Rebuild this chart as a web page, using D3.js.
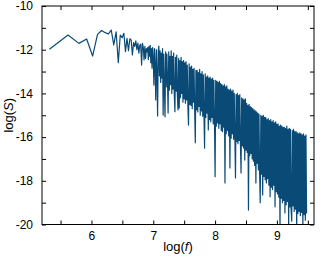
<!DOCTYPE html>
<html lang="en">
<head>
<meta charset="utf-8">
<style>
  body { margin: 0; background: #fff; }
  svg { display: block; font-family: "Liberation Sans", Arial, sans-serif; }
</style>
</head>
<body>
<div id="chart"></div>
<script src="https://cdn.jsdelivr.net/npm/d3@7"></script>
<script>
// low frequency part: one point per FFT bin
const sparseF = [5.320, 5.621, 5.797, 5.922, 6.019, 6.098, 6.165, 6.223, 6.274, 6.320,
  6.361, 6.399, 6.434, 6.466, 6.496, 6.524, 6.550, 6.575, 6.599, 6.621,
  6.643, 6.662, 6.682, 6.700, 6.718, 6.735, 6.751, 6.767, 6.782, 6.797,
  6.811, 6.825, 6.839, 6.851, 6.864, 6.876, 6.888, 6.900];
const sparseS = [-11.98, -11.33, -11.71, -11.51, -12.29, -11.30, -11.12, -11.22, -11.28, -11.10,
  -11.78, -11.18, -12.59, -11.33, -11.45, -11.25, -12.09, -11.48, -12.05, -11.50,
  -11.56, -12.24, -11.68, -11.85, -11.60, -12.00, -11.70, -12.16, -11.80, -11.75,
  -12.70, -11.71, -11.90, -12.47, -11.85, -12.40, -11.95, -12.10];

// dense part: log(f) from 6.91 in steps of 0.01, values estimated from the band
const denseStart = 6.91;
const denseStep = 0.01;
const denseS = [
  -11.90, -12.45, -11.85, -12.30, -11.80, -12.60, -11.95, -12.85, -11.90, -12.40,
  -13.62, -11.95, -12.70, -14.30, -12.00, -13.10, -15.03, -12.10, -11.83, -13.20,
  -12.05, -13.50, -12.15, -13.30, -11.95, -14.99, -12.20, -13.60, -15.07, -12.10,
  -13.70, -12.20, -13.40, -14.90, -12.10, -13.85, -12.30, -13.60, -12.05, -14.00,
  -12.30, -13.80, -12.15, -14.05, -14.84, -12.35, -13.90, -12.25, -14.10, -14.76,
  -12.40, -14.67, -12.50, -14.20, -12.35, -14.00, -12.55, -14.40, -12.50, -14.25,
  -12.60, -14.45, -12.55, -14.30, -12.70, -14.60, -15.45, -12.65, -14.50, -12.80,
  -14.55, -12.75, -14.70, -12.90, -14.40, -12.85, -14.80, -16.26, -12.95, -14.75,
  -12.95, -14.85, -13.05, -14.60, -12.90, -15.00, -13.10, -14.80, -13.00, -15.05,
  -13.15, -14.95, -16.51, -13.10, -15.10, -13.25, -14.90, -13.20, -15.67, -13.30,
  -15.20, -13.25, -15.30, -13.35, -15.10, -13.30, -15.40, -13.40, -15.25, -17.81,
  -13.40, -15.50, -13.45, -15.35, -13.50, -15.60, -13.45, -15.40, -13.55, -15.70,
  -13.60, -15.75, -13.65, -15.55, -13.60, -18.10, -13.70, -15.85, -13.65, -15.70,
  -13.80, -15.95, -13.85, -17.41, -13.80, -16.05, -13.90, -15.85, -13.85, -16.10,
  -14.00, -16.00, -17.87, -14.05, -16.20, -14.00, -16.30, -14.10, -16.15, -14.05,
  -16.35, -17.64, -14.20, -16.40, -14.25, -16.50, -14.30, -17.05, -14.25, -16.60,
  -14.45, -16.70, -14.55, -19.34, -14.50, -16.85, -14.60, -16.75, -14.65, -17.00,
  -14.70, -17.10, -14.75, -17.30, -14.80, -18.10, -14.85, -17.20, -14.90, -17.50,
  -14.95, -17.60, -19.00, -15.00, -17.70, -15.05, -18.65, -15.00, -17.80, -15.10,
  -17.95, -15.10, -18.10, -15.20, -17.90, -15.15, -18.20, -15.25, -18.73, -15.20,
  -18.30, -15.30, -18.40, -15.25, -18.20, -15.35, -19.19, -15.30, -18.50, -15.40,
  -18.60, -15.40, -18.75, -15.50, -20.30, -15.45, -18.80, -15.50, -19.00, -15.55,
  -18.90, -15.55, -19.47, -15.60, -19.10, -15.50, -18.95, -15.65, -20.20, -15.60,
  -19.20, -15.65, -19.35, -19.85, -15.70, -19.15, -15.65, -19.40, -15.75, -19.30,
  -15.75, -20.30, -15.80, -19.50, -15.85, -19.40, -15.80, -19.60, -15.85, -19.45,
  -15.90, -20.10, -15.85, -19.55, -15.95, -19.80, -15.90, -19.50
];

const xMajor = [6, 7, 8, 9];
const xMinor = [5.5, 6.5, 7.5, 8.5, 9.5];
const yMajor = [-20, -18, -16, -14, -12, -10];
const yMinor = [-19, -17, -15, -13, -11];

const width = 323, height = 263;
const mLeft = 42, mRight = 314, mTop = 6, mBottom = 224.5;

const points = sparseF.map((f, i) => [f, sparseS[i]])
  .concat(denseS.map((s, i) => [denseStart + i * denseStep, s]));

const svg = d3.select("#chart").append("svg")
  .attr("width", width)
  .attr("height", height);

svg.append("rect").attr("width", width).attr("height", height).attr("fill", "#fff");

const x = d3.scaleLinear().domain([5.2, 9.6]).range([mLeft, mRight]);
const y = d3.scaleLinear().domain([-20, -10]).range([mBottom, mTop]);

svg.append("clipPath").attr("id", "plot")
  .append("rect")
  .attr("x", mLeft).attr("y", mTop)
  .attr("width", mRight - mLeft).attr("height", mBottom - mTop);

const line = d3.line()
  .x(d => x(d[0]))
  .y(d => y(d[1]));

svg.append("path")
  .datum(points)
  .attr("clip-path", "url(#plot)")
  .attr("fill", "none")
  .attr("stroke", "#0a4a77")
  .attr("stroke-width", 1.2)
  .attr("stroke-linejoin", "round")
  .attr("d", line);

const fmt = d => String(d);

function addAxis(axis, tx, ty) {
  const g = svg.append("g")
    .attr("transform", `translate(${tx},${ty})`)
    .call(axis);
  g.select(".domain").remove();
  g.selectAll("line").attr("stroke", "#000");
  g.selectAll("text").attr("fill", "#000").style("font-size", "12px");
  return g;
}

// bottom and left with labels, all ticks pointing inward
addAxis(d3.axisBottom(x).tickValues(xMajor).tickFormat(fmt).tickSize(-4).tickPadding(7), 0, mBottom);
addAxis(d3.axisBottom(x).tickValues(xMinor).tickFormat("").tickSize(-4), 0, mBottom);
addAxis(d3.axisLeft(y).tickValues(yMajor).tickFormat(fmt).tickSize(-4).tickPadding(9), mLeft, 0);
addAxis(d3.axisLeft(y).tickValues(yMinor).tickFormat("").tickSize(-4), mLeft, 0);
// top and right: ticks only
addAxis(d3.axisTop(x).tickValues(xMajor.concat(xMinor)).tickFormat("").tickSize(-4), 0, mTop);
addAxis(d3.axisRight(y).tickValues(yMajor.concat(yMinor)).tickFormat("").tickSize(-4), mRight, 0);

// frame
svg.append("rect")
  .attr("x", mLeft).attr("y", mTop)
  .attr("width", mRight - mLeft).attr("height", mBottom - mTop)
  .attr("fill", "none")
  .attr("stroke", "#000")
  .attr("stroke-width", 1);

// axis titles
const xt = svg.append("text")
  .attr("x", (mLeft + mRight) / 2)
  .attr("y", 251)
  .attr("text-anchor", "middle")
  .style("font-size", "13px");
xt.append("tspan").text("log(");
xt.append("tspan").style("font-style", "italic").text("f");
xt.append("tspan").text(")");

const yt = svg.append("text")
  .attr("transform", `translate(13,${(mTop + mBottom) / 2}) rotate(-90)`)
  .attr("text-anchor", "middle")
  .style("font-size", "13px");
yt.append("tspan").text("log(");
yt.append("tspan").style("font-style", "italic").text("S");
yt.append("tspan").text(")");
</script>
</body>
</html>
